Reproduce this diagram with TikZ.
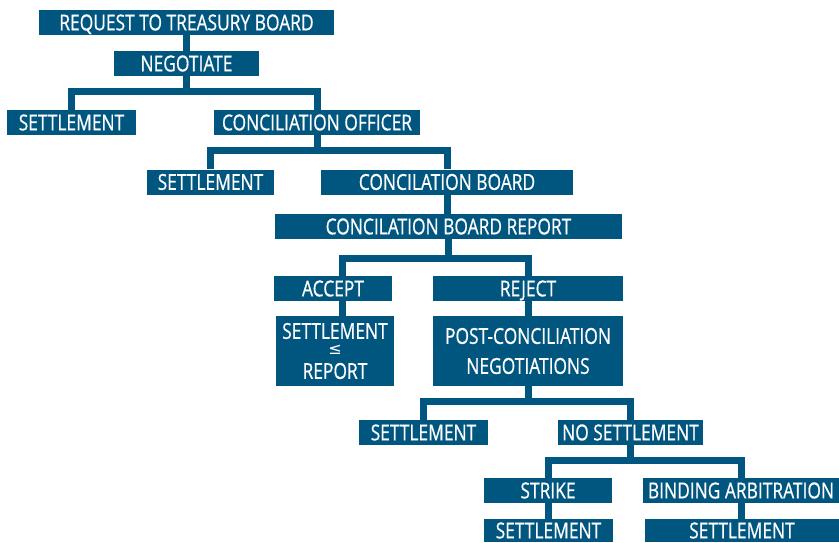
\documentclass[tikz,border=0pt]{standalone}
\usepackage{fontspec}
\setmainfont{Open Sans}[FakeStretch=0.79,FakeBold=0.6]
\newfontfamily\symfont{DejaVu Sans}
\definecolor{tbblue}{RGB}{0,86,127}

\begin{document}
\begin{tikzpicture}[x=1pt,y=-1pt,
    stage/.style={fill=tbblue,text=white,inner sep=0pt,minimum height=25pt,
        text height=15.7pt,text depth=0pt,font=\fontsize{22}{30}\selectfont},
    tallstage/.style={fill=tbblue,text=white,inner sep=0pt,minimum height=70pt,
        align=center,font=\fontsize{22}{30}\selectfont},
    link/.style={draw=tbblue,line width=7pt,line join=miter}]
        \useasboundingbox (0,0) rectangle (839,542);

        \node[stage,minimum width=295pt] (request) at (186.5,22.5) {REQUEST TO TREASURY BOARD};
        \node[stage,minimum width=145pt] (negotiate) at (186.5,63.5) {NEGOTIATE};
        \node[stage,minimum width=129pt] (settleA) at (71.5,122.5) {SETTLEMENT};
        \node[stage,minimum width=206pt] (officer) at (317,122.5) {CONCILIATION OFFICER};
        \node[stage,minimum width=127pt] (settleB) at (210.5,182) {SETTLEMENT};
        \node[stage,minimum width=252pt] (board) at (447,182) {CONCILATION BOARD};
        \node[stage,minimum width=347pt] (report) at (448.5,226.5) {CONCILATION BOARD REPORT};
        \node[stage,minimum width=118pt] (accept) at (333,288.5) {ACCEPT};
        \node[stage,minimum width=190pt] (reject) at (528,288.5) {REJECT};
        \node[tallstage,minimum width=118pt] (settleRep) at (335,351)
            {SETTLEMENT\\[-14pt]{\symfont\fontsize{16}{16}\selectfont ≤}\\[-6pt]REPORT};
        \node[tallstage,minimum width=190pt] (postneg) at (528,351)
            {POST-CONCILIATION\\NEGOTIATIONS};
        \node[stage,minimum width=129pt] (settleC) at (423.5,432.5) {SETTLEMENT};
        \node[stage,minimum width=145pt] (nosettle) at (630.5,432.5) {NO SETTLEMENT};
        \node[stage,minimum width=128pt] (strike) at (548,490.5) {STRIKE};
        \node[stage,minimum width=196pt] (binding) at (741,490.5) {BINDING ARBITRATION};
        \node[stage,minimum width=129pt,minimum height=23pt] (settleD) at (548.5,530.5) {SETTLEMENT};
        \node[stage,minimum width=194pt,minimum height=23pt] (settleE) at (742,530.5) {SETTLEMENT};

        % branch points
        \coordinate (j1) at (186.5,91.5);
        \coordinate (j2) at (317,150.5);
        \coordinate (j3) at (448.5,258.5);
        \coordinate (j4) at (528,401.5);
        \coordinate (j5) at (630,460);

        \draw[link] (request.south) -- (request.south |- negotiate.north);
        \draw[link] (negotiate.south) -- (j1);
        \draw[link] (settleA.north) |- (j1) -| (officer.north);
        \draw[link] (officer.south) -- (j2);
        \draw[link] (settleB.north) |- (j2) -| (board.north);
        \draw[link] (board.south) -- (board.south |- report.north);
        \draw[link] (report.south) -- (j3);
        \draw[link] ([xshift=9.5pt]accept.north) |- (j3) -| (reject.north);
        \draw[link] ([xshift=9.5pt]accept.south) -- ([xshift=9.5pt]accept.south |- settleRep.north);
        \draw[link] (reject.south) -- (reject.south |- postneg.north);
        \draw[link] (postneg.south) -- (j4);
        \draw[link] (settleC.north) |- (j4) -| (nosettle.north);
        \draw[link] (nosettle.south) -- (nosettle.south |- j5);
        \draw[link] (strike.north) |- (j5) -| (binding.north);
        \draw[link] (strike.south) -- (strike.south |- settleD.north);
        \draw[link] (binding.south) -- (binding.south |- settleE.north);
\end{tikzpicture}
\end{document}
